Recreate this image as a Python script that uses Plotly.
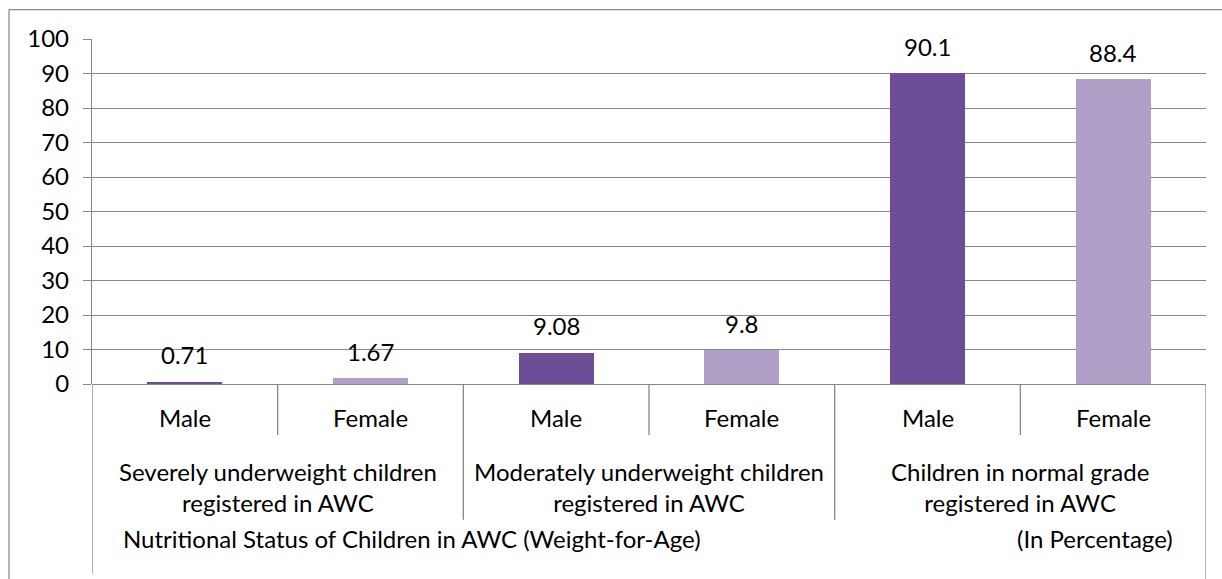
import plotly.graph_objects as go

# Nutritional status of children in AWC (weight-for-age), percentages
groups = [
    "Severely underweight children<br>registered in AWC",
    "Moderately underweight children<br>registered in AWC",
    "Children in normal grade<br>registered in AWC",
]
sexes = ["Male", "Female"]
values = [0.71, 1.67, 9.08, 9.8, 90.1, 88.4]
value_labels = ["0.71", "1.67", "9.08", "9.8", "90.1", "88.4"]
y_ticks = [0, 10, 20, 30, 40, 50, 60, 70, 80, 90, 100]

MALE = "#6d4e96"
FEMALE = "#b0a0c8"
GRID = "#878787"
FONT = "Lato"
FS = 24

W, H = 1222, 579
L, R, T, B = 92, 16, 38.5, 195
plot_h = H - T - B
plot_w = W - L - R


def py(px):
    # pixel row -> paper y
    return (H - B - px) / plot_h


def pxx(px):
    # pixel column -> paper x
    return (px - L) / plot_w


n = len(values)
xs = [i + 0.5 for i in range(n)]
colors = [MALE if i % 2 == 0 else FEMALE for i in range(n)]

fig = go.Figure()
fig.add_trace(go.Bar(
    x=xs, y=values, width=0.404,
    marker=dict(color=colors, line=dict(width=0)),
    hoverinfo="skip", showlegend=False,
))

ann = []
# value labels above the bars
for x, v, t in zip(xs, values, value_labels):
    ann.append(dict(x=x, y=v, xref="x", yref="y", text=t, showarrow=False,
                    yanchor="middle", yshift=27,
                    font=dict(family=FONT, size=FS, color="#000")))
# inner category labels
for i, x in enumerate(xs):
    ann.append(dict(x=x, y=py(418), xref="x", yref="paper", text=sexes[i % 2],
                    showarrow=False, yanchor="middle",
                    font=dict(family=FONT, size=FS, color="#000")))
# outer category labels
for g, name in enumerate(groups):
    ann.append(dict(x=2 * g + 1, y=py(487), xref="x", yref="paper", text=name,
                    showarrow=False, yanchor="middle", align="center",
                    font=dict(family=FONT, size=FS, color="#000")))
# axis title row
ann.append(dict(x=pxx(121), y=py(539), xref="paper", yref="paper",
                text="Nutritional Status of Children in AWC (Weight-for-Age)",
                showarrow=False, xanchor="left", yanchor="middle",
                font=dict(family=FONT, size=FS, color="#000")))
ann.append(dict(x=pxx(1175), y=py(539), xref="paper", yref="paper",
                text="(In Percentage)", showarrow=False,
                xanchor="right", yanchor="middle",
                font=dict(family=FONT, size=FS, color="#000")))

shapes = []
line = dict(color=GRID, width=1.3)
# separators between the inner categories
for k in range(1, n):
    bottom = py(520) if k % 2 == 0 else py(435)
    shapes.append(dict(type="line", xref="x", yref="paper", x0=k, x1=k,
                       y0=0, y1=bottom, line=line))
# outer edges of the category axis
shapes.append(dict(type="line", xref="x", yref="paper", x0=0, x1=0,
                   y0=0, y1=py(574), line=line))
shapes.append(dict(type="line", xref="x", yref="paper", x0=n, x1=n,
                   y0=0, y1=py(579), line=line))
# chart frame (top and left edges)
shapes.append(dict(type="line", xref="paper", yref="paper", x0=pxx(9), x1=pxx(1230),
                   y0=py(9), y1=py(9), line=dict(color="#8c8c8c", width=1.3)))
shapes.append(dict(type="line", xref="paper", yref="paper", x0=pxx(9), x1=pxx(9),
                   y0=py(9), y1=py(590), line=dict(color="#8c8c8c", width=1.3)))

fig.update_layout(
    width=W, height=H,
    margin=dict(l=L, r=R, t=T, b=B, pad=0),
    paper_bgcolor="white", plot_bgcolor="white",
    bargap=0,
    annotations=ann, shapes=shapes,
    font=dict(family=FONT, size=FS, color="#000"),
)
fig.update_xaxes(range=[0, n], showgrid=False, zeroline=False, showline=False,
                 showticklabels=False, ticks="", fixedrange=True)
fig.update_yaxes(range=[0, 100], tickvals=y_ticks, ticktext=[str(v) for v in y_ticks],
                 showgrid=True, gridcolor=GRID, gridwidth=1.3,
                 zeroline=True, zerolinecolor=GRID, zerolinewidth=1.3,
                 showline=True, linecolor=GRID, linewidth=1.3,
                 ticks="outside", ticklen=8, tickcolor=GRID, tickwidth=1.3,
                 ticklabelstandoff=9,
                 tickfont=dict(family=FONT, size=FS, color="#000"), fixedrange=True)

fig.write_html("out.html", config={"displayModeBar": False})
